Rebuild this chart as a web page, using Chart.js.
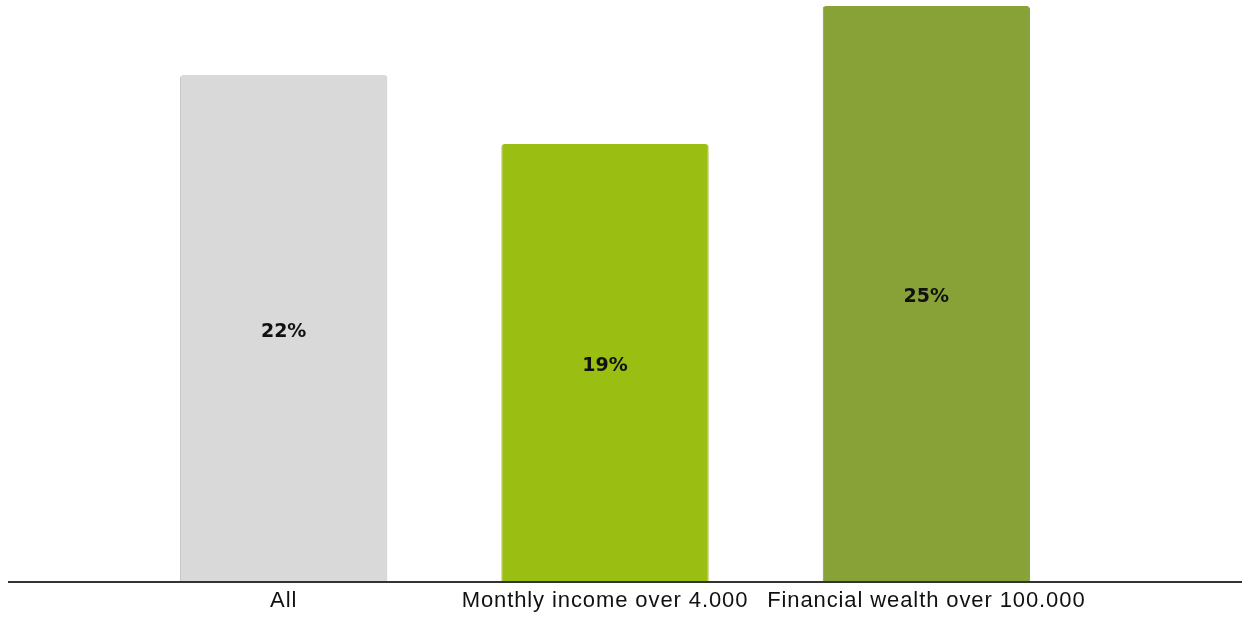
<!DOCTYPE html>
<html>
<head>
<meta charset="utf-8">
<script src="https://cdn.jsdelivr.net/npm/chart.js@4/dist/chart.umd.min.js"></script>
<style>
  html, body { margin: 0; padding: 0; background: #fff; }
  #wrap { width: 1242px; height: 619px; position: relative; }
</style>
</head>
<body>
<div id="wrap"><canvas id="grafico"></canvas></div>
<script>
const categorias = ['All', 'Monthly income over 4.000', 'Financial wealth over 100.000'];
const valores = [22, 19, 25];
const colores = ['#d9d9d9', '#9bbe12', '#88a238'];
const bordes = ['#c4c4c4', '#8fb010', '#7d9633'];

// etiquetas de valor centradas en cada barra
const etiquetasValor = {
    id: 'etiquetasValor',
    afterDatasetsDraw(chart) {
        const ctx = chart.ctx;
        const meta = chart.getDatasetMeta(0);
        ctx.save();
        if ('letterSpacing' in ctx) ctx.letterSpacing = '0px';
        ctx.font = 'bold 19px "DejaVu Sans", sans-serif';
        ctx.fillStyle = '#111';
        ctx.textAlign = 'center';
        ctx.textBaseline = 'middle';
        meta.data.forEach((bar, i) => {
            const y = (bar.y + bar.base) / 2 + 4;
            ctx.fillText(valores[i] + '%', bar.x, y);
        });
        ctx.restore();
    }
};

// linea base a todo lo ancho + espaciado de letras en las etiquetas
const lineaBase = {
    id: 'lineaBase',
    beforeDraw(chart) {
        if ('letterSpacing' in chart.ctx) chart.ctx.letterSpacing = '0.9px';
    },
    afterDatasetsDraw(chart) {
        const ctx = chart.ctx;
        const y = chart.scales.y.getPixelForValue(0) + 1;
        ctx.save();
        ctx.strokeStyle = '#333';
        ctx.lineWidth = 2;
        ctx.beginPath();
        ctx.moveTo(8, y);
        ctx.lineTo(chart.width, y);
        ctx.stroke();
        ctx.restore();
    },
    afterDraw(chart) {
        if ('letterSpacing' in chart.ctx) chart.ctx.letterSpacing = '0px';
    }
};

document.addEventListener('DOMContentLoaded', function() {
    const el = document.getElementById('grafico');
    new Chart(el.getContext('2d'), {
        type: 'bar',
        data: {
            labels: categorias,
            datasets: [{
                data: valores,
                backgroundColor: colores,
                borderColor: bordes,
                borderWidth: { left: 1, right: 1, top: 0, bottom: 0 },
                borderRadius: { topLeft: 3, topRight: 3, bottomLeft: 0, bottomRight: 0 },
                borderSkipped: 'bottom',
                categoryPercentage: 1,
                barPercentage: 0.645
            }]
        },
        options: {
            responsive: true,
            maintainAspectRatio: false,
            animation: false,
            layout: { padding: { left: 123, right: 155, top: 6, bottom: 0 } },
            plugins: {
                legend: { display: false },
                tooltip: { enabled: false }
            },
            scales: {
                y: {
                    display: false,
                    min: 0,
                    max: 25
                },
                x: {
                    grid: { display: false, drawTicks: false },
                    border: { display: false },
                    ticks: {
                        color: '#111',
                        padding: 7,
                        maxRotation: 0,
                        autoSkip: false,
                        font: { family: '"Liberation Sans", Arial, sans-serif', size: 22 }
                    },
                    afterFit(scale) { scale.height = 38; }
                }
            }
        },
        plugins: [etiquetasValor, lineaBase]
    });
});
</script>
</body>
</html>
